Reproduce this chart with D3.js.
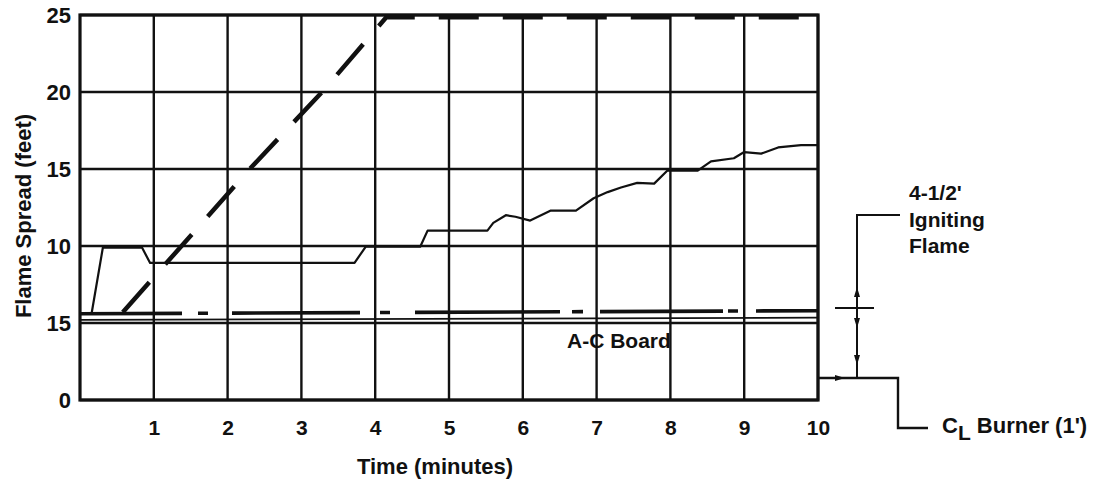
<!DOCTYPE html>
<html>
<head>
<meta charset="utf-8">
<script src="https://cdn.jsdelivr.net/npm/d3@7"></script>
<style>
  html, body { margin: 0; padding: 0; background: #fff; }
  svg { display: block; }
  text { font-family: "Liberation Sans", Arial, sans-serif; font-weight: bold; fill: #111; }
</style>
</head>
<body>
<svg id="chart" width="1120" height="486"></svg>
<script>
// ---------- data ----------
const timeTicks = [1, 2, 3, 4, 5, 6, 7, 8, 9, 10];
const spreadTicks = [0, 5, 10, 15, 20, 25];
const spreadTickLabels = ["0", "15", "10", "15", "20", "25"];

// main solid curve (time in minutes, flame spread in feet)
const solidTime   = [0.16, 0.31, 0.84, 0.95, 3.72, 3.87, 4.61, 4.71, 5.52, 5.6, 5.77, 5.9, 6.1, 6.38, 6.72, 6.96, 7.15, 7.33, 7.55, 7.78, 7.96, 8.37, 8.55, 8.86, 9.0, 9.23, 9.46, 9.77, 10.0];
const solidSpread = [5.7, 9.9, 9.9, 8.9, 8.9, 9.95, 9.95, 11.0, 11.0, 11.5, 12.0, 11.9, 11.65, 12.3, 12.3, 13.1, 13.5, 13.8, 14.1, 14.05, 14.9, 14.9, 15.5, 15.7, 16.1, 16.0, 16.4, 16.55, 16.55];

// heavy dashed curve
const dashedTime   = [0.58, 2.3, 3.3, 4.15, 10.0];
const dashedSpread = [5.7, 15.0, 20.1, 24.85, 24.85];

// dash-dot line
const dashDotTime   = [0, 10];
const dashDotSpread = [5.6, 5.8];

// A-C Board line
const boardTime   = [0, 10];
const boardSpread = [5.2, 5.35];

// ---------- layout ----------
const svg = d3.select("#chart");
const margin = { left: 80, right: 1120 - 818, top: 15, bottom: 486 - 400 };
const W = 1120, H = 486;
const x = d3.scaleLinear().domain([0, 10]).range([margin.left, W - margin.right]);
const y = d3.scaleLinear().domain([0, 25]).range([H - margin.bottom, margin.top]);
const ink = "#111";

const zip = (a, b) => a.map((v, i) => [v, b[i]]);
const line = d3.line().x(d => x(d[0])).y(d => y(d[1]));

// grid
const g = svg.append("g");
g.selectAll(".vg").data(timeTicks).enter().append("line")
  .attr("x1", d => x(d)).attr("x2", d => x(d))
  .attr("y1", y(0)).attr("y2", y(25))
  .attr("stroke", ink).attr("stroke-width", 2.4);
g.selectAll(".hg").data(spreadTicks).enter().append("line")
  .attr("x1", x(0)).attr("x2", x(10))
  .attr("y1", d => y(d)).attr("y2", d => y(d))
  .attr("stroke", ink).attr("stroke-width", 2.4);
// frame
g.append("rect").attr("x", x(0)).attr("y", y(25))
  .attr("width", x(10) - x(0)).attr("height", y(0) - y(25))
  .attr("fill", "none").attr("stroke", ink).attr("stroke-width", 3.2);

// axes (labels only)
const xAxis = d3.axisBottom(x).tickValues(timeTicks).tickSize(0).tickPadding(20)
  .tickFormat(d3.format("d"));
const xa = svg.append("g").attr("transform", `translate(0,${y(0)})`).call(xAxis);
xa.select(".domain").remove();
xa.selectAll("text").style("font-size", "21px").style("font-family", "Liberation Sans, Arial, sans-serif")
  .style("font-weight", "bold").attr("fill", ink);

const yAxis = d3.axisLeft(y).tickValues(spreadTicks).tickSize(0).tickPadding(9)
  .tickFormat((d, i) => spreadTickLabels[i]);
const ya = svg.append("g").attr("transform", `translate(${x(0)},0)`).call(yAxis);
ya.select(".domain").remove();
ya.selectAll("text").style("font-size", "22px").style("font-family", "Liberation Sans, Arial, sans-serif")
  .style("font-weight", "bold").attr("fill", ink);

// axis titles
svg.append("text").attr("x", 435).attr("y", 474).attr("text-anchor", "middle")
  .style("font-size", "22px").text("Time (minutes)");
svg.append("text").attr("transform", "translate(31,216) rotate(-90)").attr("text-anchor", "middle")
  .style("font-size", "22px").text("Flame Spread (feet)");

// series
svg.append("path").datum(zip(boardTime, boardSpread)).attr("d", line)
  .attr("fill", "none").attr("stroke", ink).attr("stroke-width", 1.8);
svg.append("path").datum(zip(dashDotTime, dashDotSpread)).attr("d", line)
  .attr("fill", "none").attr("stroke", ink).attr("stroke-width", 3.6)
  .attr("stroke-dasharray", "102,16,10,24,128,20,10,25,145,12,11,17,123,5,10,18,70");
svg.append("path").datum(zip(solidTime, solidSpread)).attr("d", line)
  .attr("fill", "none").attr("stroke", ink).attr("stroke-width", 2.2).attr("stroke-linejoin", "round");
svg.append("path").datum(zip(dashedTime, dashedSpread)).attr("d", line)
  .attr("fill", "none").attr("stroke", ink).attr("stroke-width", 4.5)
  .attr("stroke-dasharray", "40,24");

// A-C Board label
svg.append("text").attr("x", 567).attr("y", 348).style("font-size", "21px").text("A-C Board");

// ---------- right-side annotation ----------
const X10 = x(10), Y0 = y(0);
const ann = svg.append("g").attr("fill", "none").attr("stroke", ink).attr("stroke-width", 2);
ann.append("path").attr("d", `M${X10},${Y0 - 22} H${X10 + 80} V${Y0 + 28} H${X10 + 110}`).attr("stroke-width", 2.4);
ann.append("path").attr("d", `M${X10 + 39},${Y0 - 22} V${Y0 - 185} H${X10 + 82}`);
ann.append("line").attr("x1", X10 + 17).attr("x2", X10 + 56).attr("y1", Y0 - 92).attr("y2", Y0 - 92);
// arrow marks
const ax = X10 + 39;
[[Y0 - 108, -1], [Y0 - 77, 1], [Y0 - 40, 1]].forEach(([py, dir]) => {
  svg.append("path").attr("d", `M${ax - 3},${py - 5 * dir} L${ax},${py + 5 * dir} L${ax + 3},${py - 5 * dir} Z`)
    .attr("fill", ink).attr("stroke", "none");
});
svg.append("path").attr("d", `M${X10 + 17},${Y0 - 25} L${X10 + 27},${Y0 - 22} L${X10 + 17},${Y0 - 19} Z`)
  .attr("fill", ink);

const t1 = svg.append("text").attr("x", 909).style("font-size", "21px");
t1.append("tspan").attr("x", 909).attr("y", 200).text("4-1/2'");
t1.append("tspan").attr("x", 909).attr("y", 227).text("Igniting");
t1.append("tspan").attr("x", 909).attr("y", 253).text("Flame");

const t2 = svg.append("text").attr("x", 942).attr("y", 433).style("font-size", "22px");
t2.append("tspan").text("C");
t2.append("tspan").attr("dy", 7).style("font-size", "21px").text("L");
t2.append("tspan").attr("dy", -7).text(" Burner (1')");
</script>
</body>
</html>
